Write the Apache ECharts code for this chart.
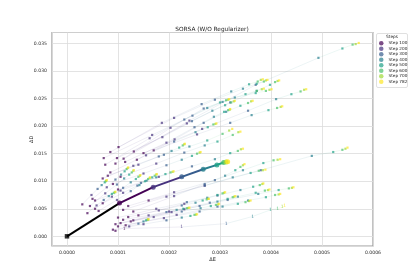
<!DOCTYPE html>
<html><head><meta charset="utf-8">
<script src="https://cdn.jsdelivr.net/npm/echarts@6/dist/echarts.min.js"></script>
<style>html,body{margin:0;padding:0;background:#fff}#c{width:415px;height:277px}</style>
</head><body><div id="c"></div>
<script>
// Steps and viridis colours
const steps = [100, 200, 300, 400, 500, 600, 700, 782];
const stepColors = ['#440154', '#46327e', '#365c8d', '#277f8e', '#1fa187', '#4ac16d', '#a0da39', '#fde725'];
// values stored in units: ΔE in 1e-4, ΔD in 1e-3
const E_UNIT = 1e-4, D_UNIT = 1e-3;
// per-trajectory ΔE at each step
const trajE = [
  [0.95,2.40,3.70,4.93,5.40,5.60,5.66,5.72],
  [1.01,2.10,2.90,3.45,3.72,3.86,3.90,3.93],
  [1.31,2.35,3.20,3.72,3.98,4.08,4.13,4.16],
  [0.85,1.86,2.64,3.22,3.57,3.74,3.80,3.84],
  [1.11,2.03,2.68,3.29,3.70,3.90,3.97,4.01],
  [0.72,1.67,2.46,3.05,3.50,3.72,3.82,3.86],
  [1.50,2.65,3.55,4.10,4.40,4.58,4.65,4.69],
  [0.98,1.87,2.45,2.85,3.10,3.22,3.27,3.29],
  [1.37,2.11,2.68,3.12,3.40,3.55,3.61,3.64],
  [1.70,2.55,3.20,3.62,3.95,4.12,4.19,4.22],
  [0.75,1.62,2.30,2.75,3.00,3.12,3.16,3.18],
  [1.14,1.95,2.50,2.88,3.08,3.16,3.19,3.20],
  [0.85,1.55,2.10,2.52,2.76,2.87,2.91,2.93],
  [0.70,1.30,1.90,2.40,2.75,3.05,3.18,3.24],
  [1.05,1.75,2.30,2.70,2.95,3.25,3.36,3.40],
  [1.60,2.70,3.80,4.80,5.22,5.40,5.46,5.50],
  [1.00,1.80,2.45,2.90,3.20,3.35,3.41,3.45],
  [0.90,1.50,1.95,2.25,2.45,2.55,2.60,2.62],
  [0.80,1.40,1.80,2.05,2.20,2.27,2.30,2.31],
  [1.20,2.10,2.90,3.45,3.85,4.05,4.13,4.18],
  [1.10,1.95,2.70,3.25,3.60,3.76,3.84,3.89],
  [0.55,1.05,1.45,1.75,1.93,2.03,2.07,2.09],
  [1.30,2.10,2.70,3.10,3.30,3.40,3.45,3.48],
  [0.45,0.75,0.98,1.12,1.22,1.27,1.30,1.31],
  [0.55,0.88,1.10,1.25,1.35,1.40,1.43,1.44],
  [0.62,0.98,1.25,1.42,1.53,1.59,1.62,1.63],
  [0.70,1.10,1.38,1.56,1.67,1.72,1.75,1.76],
  [0.40,0.58,0.72,0.82,0.88,0.92,0.94,0.95],
  [0.30,0.48,0.60,0.68,0.74,0.76,0.77,0.78],
  [0.50,0.78,0.95,1.06,1.13,1.17,1.19,1.20],
  [1.05,2.00,2.80,3.35,3.70,3.88,3.94,3.97],
  [1.15,2.15,2.95,3.55,3.90,4.08,4.15,4.18],
  [1.25,2.30,3.15,3.75,4.15,4.35,4.41,4.44],
  [1.12,2.25,3.12,3.64,3.99,4.13,4.22,4.27],
  [0.95,1.70,2.25,2.62,2.82,2.92,2.96,2.98],
  [0.90,1.50,1.95,2.25,2.42,2.50,2.53,2.55],
  [1.00,1.90,2.60,3.05,3.35,3.50,3.57,3.60],
  [1.30,2.05,2.60,2.95,3.15,3.25,3.28,3.30],
  [1.20,1.80,2.25,2.52,2.66,2.74,2.77,2.78],
  [1.10,1.60,1.95,2.15,2.28,2.35,2.38,2.40],
  [1.40,2.30,2.95,3.40,3.65,3.78,3.83,3.85],
  [0.95,1.22,1.40,1.50,1.55,1.58,1.59,1.60],
  [1.00,1.75,2.35,2.75,2.95,3.05,3.08,3.10]
];
// per-trajectory ΔD at each step
const trajD = [
  [13.2,21.0,27.5,32.4,34.1,34.8,34.9,35.1],
  [16.2,21.5,24.8,26.8,27.7,28.1,28.3,28.4],
  [15.4,20.5,24.3,26.4,27.5,28.0,28.2,28.3],
  [15.3,20.6,24.0,26.3,27.6,28.1,28.4,28.5],
  [14.1,19.7,23.2,25.2,26.0,26.4,26.6,26.7],
  [14.2,18.4,21.9,24.4,25.8,26.4,26.7,26.8],
  [15.1,19.5,22.8,24.9,25.8,26.3,26.6,26.7],
  [14.2,18.0,20.9,22.8,23.8,24.3,24.5,24.6],
  [13.9,17.6,20.6,22.6,23.7,24.2,24.5,24.6],
  [15.6,18.5,20.6,22.0,22.9,23.3,23.5,23.6],
  [13.0,17.8,21.2,23.3,24.3,24.7,24.8,24.9],
  [13.5,17.0,19.8,21.7,22.6,22.9,23.0,23.1],
  [11.6,14.7,17.2,18.9,19.8,20.3,20.4,20.5],
  [10.5,12.8,14.8,16.3,17.4,18.6,19.2,19.5],
  [10.8,13.2,15.2,16.5,17.2,18.4,18.9,19.0],
  [6.5,9.2,12.0,14.6,15.3,15.7,15.9,16.1],
  [8.5,10.8,12.7,14.0,15.1,15.5,15.8,15.9],
  [9.5,11.4,12.9,13.9,14.6,15.0,15.2,15.3],
  [11.0,13.0,14.5,15.5,16.1,16.5,16.7,16.8],
  [5.5,8.0,10.2,12.0,13.3,13.8,13.9,14.0],
  [4.8,7.2,9.2,10.7,11.5,11.9,12.0,12.1],
  [6.5,8.3,9.7,10.7,11.3,11.6,11.7,11.8],
  [4.5,7.3,9.5,11.0,12.0,12.6,12.9,13.1],
  [5.5,7.8,9.4,10.5,11.2,11.6,11.9,12.0],
  [5.0,7.2,8.8,9.8,10.4,10.8,11.0,11.1],
  [4.6,6.6,8.2,9.3,10.0,10.4,10.6,10.7],
  [6.0,7.9,9.2,10.1,10.7,11.0,11.2,11.3],
  [4.2,5.6,6.6,7.3,7.7,7.9,8.0,8.1],
  [5.8,7.5,8.6,9.3,9.8,10.0,10.1,10.2],
  [6.8,8.9,10.3,11.2,11.8,12.2,12.4,12.5],
  [2.4,4.5,6.1,7.2,7.9,8.3,8.4,8.5],
  [2.0,3.9,5.4,6.5,7.1,7.5,7.6,7.7],
  [2.7,4.9,6.6,7.7,8.4,8.7,8.8,8.9],
  [1.4,1.7,2.3,3.6,4.8,5.0,5.3,5.5],
  [2.2,3.5,4.5,5.1,5.5,5.7,5.8,5.9],
  [1.2,2.2,2.9,3.4,3.7,3.9,3.95,4.0],
  [1.8,3.3,4.5,5.4,5.9,6.2,6.4,6.5],
  [2.9,4.4,5.5,6.3,6.8,7.1,7.2,7.3],
  [3.5,4.7,5.6,6.1,6.5,6.7,6.8,6.8],
  [3.0,3.8,4.4,4.8,5.0,5.1,5.15,5.2],
  [3.8,5.9,7.4,8.4,9.0,9.3,9.5,9.6],
  [1.0,1.8,2.3,2.7,2.9,3.0,3.05,3.1],
  [3.4,5.0,6.2,7.0,7.5,7.8,7.9,8.0]
];
// trajectories drawn with text markers
const labeledTraj = [33];
const labelText = '1';
// mean trajectory (origin + steps)
const meanE = [0, 1.03, 1.69, 2.25, 2.67, 2.94, 3.07, 3.12, 3.15];
const meanD = [0, 6.03, 8.92, 10.79, 12.18, 12.96, 13.40, 13.50, 13.55];

const FONT = 'DejaVu Sans';
const lineData = [];
trajE.forEach((xs, t) => {
  for (let i = 0; i < xs.length - 1; i++) {
    lineData.push({
      coords: [[xs[i] * E_UNIT, trajD[t][i] * D_UNIT], [xs[i + 1] * E_UNIT, trajD[t][i + 1] * D_UNIT]],
      lineStyle: { color: stepColors[i + 1], opacity: 0.15, width: 0.6 }
    });
  }
});
const meanLineData = [];
for (let i = 0; i < meanE.length - 1; i++) {
  meanLineData.push({
    coords: [[meanE[i] * E_UNIT, meanD[i] * D_UNIT], [meanE[i + 1] * E_UNIT, meanD[i + 1] * D_UNIT]],
    lineStyle: { color: i === 0 ? '#000' : stepColors[i - 1], width: 2, opacity: 1 }
  });
}
const series = [{
  type: 'lines', coordinateSystem: 'cartesian2d', polyline: false, silent: true,
  data: lineData, z: 1, animation: false
}];
steps.forEach((s, k) => {
  const pts = [];
  trajE.forEach((xs, t) => {
    if (labeledTraj.includes(t)) return;
    pts.push([xs[k] * E_UNIT, trajD[t][k] * D_UNIT]);
  });
  series.push({
    name: 'Step ' + s, type: 'scatter', symbol: 'rect', symbolSize: 2.2,
    itemStyle: { color: stepColors[k], opacity: 0.7 }, data: pts, z: 2, animation: false
  });
});
// text-marker points
const labPts = [];
labeledTraj.forEach(t => {
  trajE[t].forEach((x, k) => labPts.push({ value: [x * E_UNIT, trajD[t][k] * D_UNIT], label: { color: stepColors[k] } }));
});
series.push({
  type: 'scatter', symbolSize: 0.1, itemStyle: { color: 'rgba(0,0,0,0)' }, data: labPts, z: 3, animation: false,
  label: { show: true, position: 'inside', formatter: labelText, fontSize: 4.5, fontFamily: FONT }
});
series.push({
  type: 'lines', coordinateSystem: 'cartesian2d', polyline: false, silent: true,
  data: meanLineData, z: 4, animation: false
});
series.push({
  type: 'scatter', z: 5, animation: false,
  data: meanE.map((x, i) => ({
    value: [x * E_UNIT, meanD[i] * D_UNIT],
    symbol: i === 0 ? 'rect' : 'circle',
    symbolSize: i === 0 ? 4.5 : 5,
    itemStyle: { color: i === 0 ? '#000' : stepColors[i - 1] }
  }))
});

const chart = echarts.init(document.getElementById('c'), null, { renderer: 'canvas' });
chart.setOption({
  backgroundColor: '#fff',
  animation: false,
  textStyle: { fontFamily: FONT },
  title: [
    { text: 'SORSA (W/O Regularizer)', left: 212, top: 26, textAlign: 'center', padding: 0,
      textStyle: { fontSize: 5.8, fontWeight: 'normal', color: '#222', fontFamily: FONT } },
    { text: 'Steps', left: 392, top: 35, textAlign: 'center', padding: 0,
      textStyle: { fontSize: 4.3, fontWeight: 'normal', color: '#222', fontFamily: FONT } }
  ],
  graphic: [{ type: 'rect', shape: { x: 376.5, y: 33.5, width: 31, height: 54, r: 1.5 },
    style: { fill: '#fff', stroke: '#d8d8d8', lineWidth: 0.8 }, z: 0 }],
  legend: {
    data: steps.map(s => 'Step ' + s), orient: 'vertical', left: 379, top: 41,
    itemWidth: 4.5, itemHeight: 4.5, itemGap: 1, icon: 'circle', padding: 0,
    textStyle: { fontSize: 4.2, color: '#222', fontFamily: FONT }, z: 10
  },
  grid: { left: 52, right: 42, top: 32.5, bottom: 31, show: true, borderColor: '#9a9a9a', borderWidth: 1.2 },
  xAxis: {
    type: 'value', min: -0.0000294, max: 0.0006, splitNumber: 6,
    name: 'ΔE', nameLocation: 'middle', nameGap: 11, nameMoveOverlap: false,
    nameTextStyle: { fontSize: 5, color: '#222', fontFamily: FONT },
    axisLine: { show: false }, axisTick: { show: false },
    axisLabel: { formatter: v => v.toFixed(4), fontSize: 4.6, color: '#333', margin: 4, showMinLabel: false, fontFamily: FONT },
    splitLine: { lineStyle: { color: '#dcdcdc', width: 0.8 } }
  },
  yAxis: {
    type: 'value', min: -0.00176, max: 0.037, splitNumber: 8,
    name: 'ΔD', nameLocation: 'middle', nameGap: 18, nameRotate: 90, nameMoveOverlap: false,
    nameTextStyle: { fontSize: 5, color: '#222', fontFamily: FONT },
    axisLine: { show: false }, axisTick: { show: false },
    axisLabel: { formatter: v => v.toFixed(3), fontSize: 4.6, color: '#333', margin: 5, showMinLabel: false, showMaxLabel: false, fontFamily: FONT },
    splitLine: { lineStyle: { color: '#dcdcdc', width: 0.8 } }
  },
  series: series
});
</script></body></html>
